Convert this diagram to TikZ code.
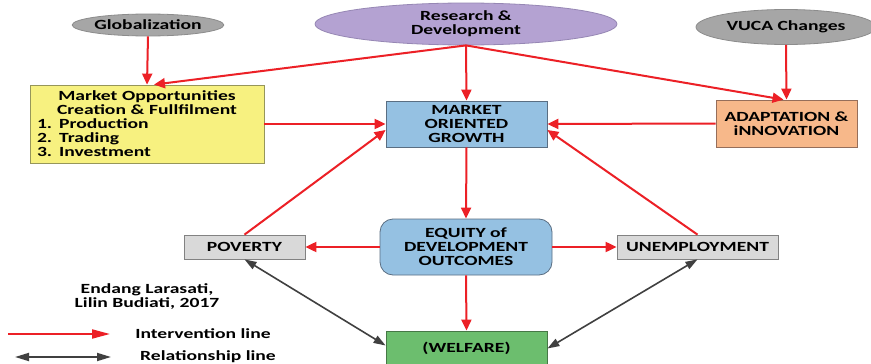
\documentclass[tikz,border=0pt]{standalone}
\usepackage{fontspec}
\setmainfont{Carlito}[FakeStretch=1.4]
\usetikzlibrary{shapes.geometric,arrows.meta}
\definecolor{cgray}{RGB}{166,166,166}
\definecolor{cgrayd}{RGB}{140,140,140}
\definecolor{cpurple}{RGB}{180,162,210}
\definecolor{cpurpled}{RGB}{150,135,180}
\definecolor{cyellow}{RGB}{247,241,128}
\definecolor{cyellowd}{RGB}{150,150,90}
\definecolor{cblue}{RGB}{149,193,226}
\definecolor{cblued}{RGB}{90,110,130}
\definecolor{corange}{RGB}{247,184,138}
\definecolor{corganged}{RGB}{150,110,90}
\definecolor{clgray}{RGB}{217,217,217}
\definecolor{clgrayd}{RGB}{130,130,130}
\definecolor{cgreen}{RGB}{108,190,110}
\definecolor{cgreend}{RGB}{70,120,70}
\definecolor{cred}{RGB}{236,32,38}
\definecolor{cdark}{RGB}{64,64,64}
\tikzset{
  base/.style={font=\fontsize{14}{14}\selectfont\bfseries, inner sep=0pt, align=center, line width=0.8pt},
  ell/.style={base, ellipse},
  boxn/.style={base, rectangle},
  iline/.style={draw=cred, line width=2pt, -{Triangle[length=11pt,width=10pt]}},
  rline/.style={draw=cdark, line width=1.6pt, {Triangle[length=12pt,width=8pt]}-{Triangle[length=12pt,width=8pt]}},
}
\begin{document}
\begin{tikzpicture}[x=1pt,y=-1pt]
\clip (0,0) rectangle (871,364);
\fill[white] (0,0) rectangle (871,364);
% ellipses
\node[ell, draw=cgrayd, fill=cgray, minimum width=141pt, minimum height=22pt] (glob) at (148,25) {Globalization};
\node[ell, draw=cpurpled, fill=cpurple, minimum width=302pt, minimum height=42pt] (rd) at (466,24) {Research \&\\Development};
\node[ell, draw=cgrayd, fill=cgray, minimum width=180pt, minimum height=35pt] (vuca) at (786,27) {VUCA Changes};
% boxes
\node[boxn, draw=cyellowd, fill=cyellow, text width=220pt, inner xsep=7pt, minimum height=78pt] (mo) at (147,124)
  {\centering Market Opportunities\\Creation \& Fullfilment\par\raggedright 1. Production\\2. Trading\\3. Investment\par};
\node[boxn, draw=cblued, fill=cblue, minimum width=161pt, minimum height=46pt] (mog) at (466.5,124) {MARKET\\ORIENTED\\GROWTH};
\node[boxn, draw=corganged, fill=corange, minimum width=141pt, minimum height=47pt] (ad) at (786.5,123.5) {ADAPTATION \&\\iNNOVATION};
\node[boxn, draw=cblued, fill=cblue, minimum width=172pt, minimum height=56pt, rounded corners=13pt] (eq) at (466,247) {EQUITY of\\DEVELOPMENT\\OUTCOMES};
\node[boxn, draw=clgrayd, fill=clgray, minimum width=121pt, minimum height=24pt] (pov) at (244.5,247) {POVERTY};
\node[boxn, draw=clgrayd, fill=clgray, minimum width=161pt, minimum height=24pt] (un) at (697.5,247) {UNEMPLOYMENT};
\node[boxn, draw=cgreend, fill=cgreen, minimum width=161pt, minimum height=35pt] (wel) at (466.5,348.5) {(WELFARE)};
% credit
\node[base] (cred) at (147,297) {Endang Larasati,\\Lilin Budiati, 2017};
% arrows
\draw[iline] (glob.south) -- (mo.north);
\draw[iline] (rd.south) -- ([xshift=7pt]mo.north);
\draw[iline] (rd.south) -- (mog.north);
\draw[iline] (rd.south) -- ([xshift=-3pt]ad.north);
\draw[iline] (vuca.south) -- (ad.north);
\draw[iline] (mo.east) -- (mog.west);
\draw[iline] (ad.west) -- (mog.east);
\draw[iline] (pov.north) -- ([yshift=-6pt]mog.west);
\draw[iline] (un.north) -- ([yshift=-6pt]mog.east);
\draw[iline] (mog.south) -- (eq.north);
\draw[iline] (eq.west) -- (pov.east);
\draw[iline] (eq.east) -- (un.west);
\draw[iline] (eq.south) -- (wel.north);
\draw[rline] (pov.south) -- ([yshift=3pt]wel.west);
\draw[rline] (un.south) -- (wel.east);
% legend
\coordinate (l1a) at (8,334);
\coordinate (l1b) at (110,334);
\coordinate (l2a) at (15,357);
\coordinate (l2b) at (111,357);
\draw[draw=cred, line width=2pt, -{Triangle[length=18pt,width=9pt]}] (l1a) -- (l1b);
\draw[draw=cdark, line width=1.8pt, {Triangle[length=14pt,width=8pt]}-{Triangle[length=14pt,width=8pt]}] (l2a) -- (l2b);
\node[base] (lt1) at (203,334) {Intervention line};
\node[base] (lt2) at (208,357) {Relationship line};
\end{tikzpicture}
\end{document}
